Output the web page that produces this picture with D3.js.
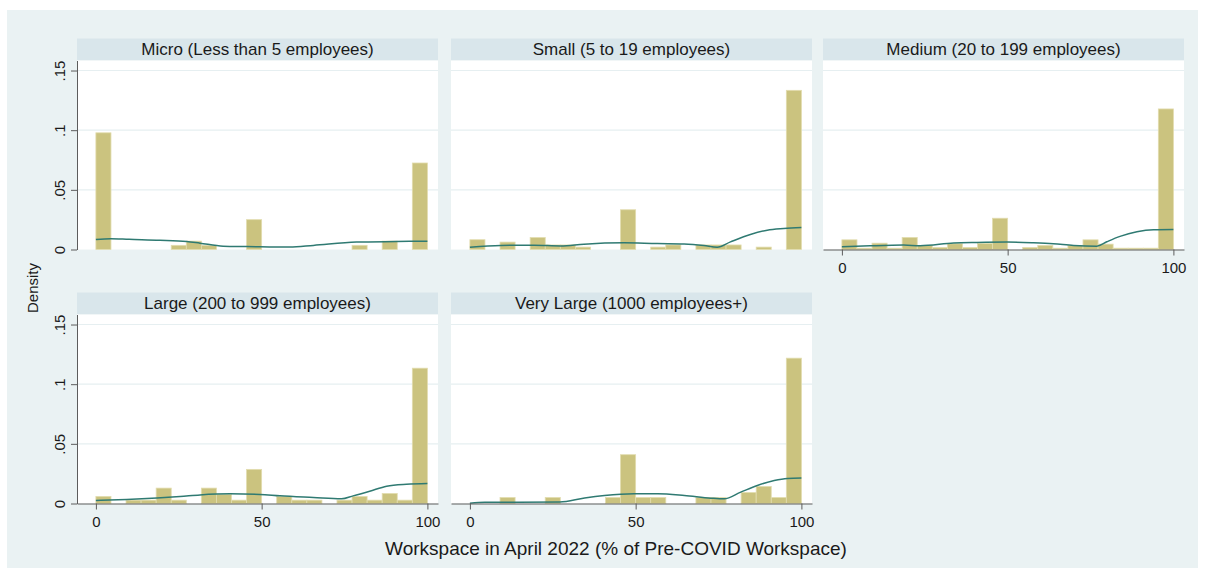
<!DOCTYPE html>
<html>
<head>
<meta charset="utf-8">
<script src="https://cdn.jsdelivr.net/npm/d3@7"></script>
<style>
  body { margin: 0; background: #fff; }
  svg text { font-family: "Liberation Sans", Arial, sans-serif; fill: #1a1a1a; }
</style>
</head>
<body>
<div id="chart"></div>
<script>
// panel titles (firm size)
const panelTitles = [
  'Micro (Less than 5 employees)',
  'Small (5 to 19 employees)',
  'Medium (20 to 199 employees)',
  'Large (200 to 999 employees)',
  'Very Large (1000 employees+)'
]

// histogram densities, 22 bins over 0..100
const microDensity = [0.0978, 0, 0, 0, 0, 0.0035, 0.0070, 0.0035, 0, 0, 0.0250, 0, 0, 0, 0, 0, 0, 0.0035, 0, 0.0070, 0, 0.0725]
const smallDensity = [0.0082, 0, 0.0062, 0, 0.0100, 0.0038, 0.0038, 0.0020, 0, 0, 0.0333, 0, 0.0020, 0.0038, 0, 0.0038, 0.0038, 0.0038, 0, 0.0020, 0, 0.1334]
const mediumDensity = [0.0081, 0.0011, 0.0053, 0.0011, 0.0101, 0.0034, 0.0017, 0.0048, 0.0017, 0.0050, 0.0262, 0, 0.0017, 0.0034, 0.0011, 0.0034, 0.0081, 0.0045, 0.0011, 0.0011, 0.0011, 0.1178]
const largeDensity = [0.0059, 0, 0.0028, 0.0028, 0.0129, 0.0028, 0, 0.0129, 0.0076, 0.0028, 0.0286, 0, 0.0059, 0.0028, 0.0028, 0, 0.0028, 0.0059, 0.0028, 0.0084, 0.0028, 0.1134]
const veryLargeDensity = [0, 0, 0.0050, 0, 0, 0.0050, 0, 0, 0, 0.0050, 0.0409, 0.0050, 0.0050, 0, 0, 0.0050, 0.0050, 0, 0.0092, 0.0143, 0.0050, 0.1218]

// kernel density curves [x, density]
const microKde = [[0, 0.0084], [4.5, 0.0090], [10, 0.0085], [19.3, 0.0078], [27.4, 0.0067], [31.4, 0.0053], [38.4, 0.0028], [45.5, 0.0025], [58.5, 0.0020], [65.6, 0.0034], [78.6, 0.0062], [90.7, 0.0067], [100, 0.0070]]
const smallKde = [[0, 0.0019], [9.3, 0.0034], [19.4, 0.0036], [27.4, 0.0030], [34.4, 0.0045], [46.5, 0.0056], [56.5, 0.0050], [64.6, 0.0047], [70.6, 0.0034], [74.6, 0.0019], [78.6, 0.0064], [84.6, 0.0126], [89.7, 0.0162], [94.7, 0.0176], [100, 0.0185]]
const mediumKde = [[0, 0.0023], [8.5, 0.0031], [18.6, 0.0037], [23.6, 0.0031], [33.7, 0.0054], [40.7, 0.0059], [49.8, 0.0062], [57.8, 0.0056], [63.8, 0.0048], [69.9, 0.0034], [76.9, 0.0028], [79.9, 0.0065], [83.9, 0.0110], [89, 0.0149], [94, 0.0166], [100, 0.0168]]
const largeKde = [[0, 0.0025], [9.3, 0.0034], [18.4, 0.0047], [25.4, 0.0059], [31.4, 0.0072], [40.5, 0.0081], [49.5, 0.0076], [55.5, 0.0064], [65.6, 0.0050], [74.1, 0.0039], [77.6, 0.0064], [82.6, 0.0103], [87.7, 0.0145], [93.7, 0.0162], [100, 0.0168]]
const veryLargeKde = [[0, 0.0003], [4.5, 0.0011], [14.5, 0.0011], [27.1, 0.0013], [34.6, 0.0047], [40.6, 0.0067], [49.6, 0.0081], [56.7, 0.0081], [64.7, 0.0067], [72.7, 0.0045], [76.7, 0.0039], [81.7, 0.0095], [86.7, 0.0151], [91.8, 0.0193], [95.8, 0.0210], [100, 0.0213]]

const yTicks = [0, 0.05, 0.1, 0.15]
const yTickLabels = ['0', '.05', '.1', '.15']
const xTicks = [0, 50, 100]
const yTitle = 'Density'
const xTitle = 'Workspace in April 2022 (% of Pre-COVID Workspace)'

const densities = [microDensity, smallDensity, mediumDensity, largeDensity, veryLargeDensity]
const kdes = [microKde, smallKde, mediumKde, largeKde, veryLargeKde]
const binEdges = d3.range(23).map(i => i * 100 / 22)

const width = 1205
const height = 572
const colX = [77, 451, 823]
const rowY = [38.5, 292.5]
const panelW = 361
const stripH = 22
const plotH = 189

const barFill = '#cbc37f'
const barStroke = '#e2dcae'
const lineColor = '#2f7a72'
const axisColor = '#5c5c5c'

const svg = d3.select('#chart')
  .append('svg')
  .attr('width', width)
  .attr('height', height)

svg.append('rect')
  .attr('x', 7)
  .attr('y', 10)
  .attr('width', 1191)
  .attr('height', 558)
  .attr('fill', '#eaf2f3')

panelTitles.forEach((title, i) => {
  const col = i % 3
  const row = Math.floor(i / 3)
  const x0 = colX[col]
  const top = rowY[row]
  const g = svg.append('g').attr('transform', `translate(${x0},${top})`)

  const x = d3.scaleLinear().domain([-5.7, 103.2]).range([0, panelW])
  const y = d3.scaleLinear().domain([0, 0.1584]).range([stripH + plotH, stripH])

  // strip
  g.append('rect')
    .attr('width', panelW)
    .attr('height', stripH)
    .attr('fill', '#d9e6eb')
  g.append('text')
    .attr('x', panelW / 2)
    .attr('y', 16.5)
    .attr('text-anchor', 'middle')
    .style('font-size', '17px')
    .text(title)

  // plot region
  g.append('rect')
    .attr('y', stripH)
    .attr('width', panelW)
    .attr('height', plotH)
    .attr('fill', '#fff')

  g.selectAll('.grid')
    .data(yTicks.slice(1))
    .enter().append('line')
    .attr('x1', 0)
    .attr('x2', panelW)
    .attr('y1', d => y(d))
    .attr('y2', d => y(d))
    .attr('stroke', '#e6eff1')
    .attr('stroke-width', 1.2)

  // bars
  g.selectAll('.bar')
    .data(densities[i].map((v, k) => ({ v, k })).filter(d => d.v > 0))
    .enter().append('rect')
    .attr('x', d => x(binEdges[d.k]))
    .attr('width', d => x(binEdges[d.k + 1]) - x(binEdges[d.k]))
    .attr('y', d => y(d.v))
    .attr('height', d => y(0) - y(d.v))
    .attr('fill', barFill)
    .attr('stroke', barStroke)
    .attr('stroke-width', 0.8)

  // kernel density
  const line = d3.line()
    .x(d => x(d[0]))
    .y(d => y(d[1]))
    .curve(d3.curveMonotoneX)
  g.append('path')
    .datum(kdes[i])
    .attr('d', line)
    .attr('fill', 'none')
    .attr('stroke', lineColor)
    .attr('stroke-width', 1.5)

  // y axis on first column
  if (col === 0) {
    const ya = g.append('g')
      .call(d3.axisLeft(y).tickValues(yTicks).tickFormat((d, k) => yTickLabels[k]).tickSize(6).tickSizeOuter(0))
    ya.select('.domain').attr('stroke', axisColor)
    ya.selectAll('.tick line').attr('stroke', axisColor)
    ya.selectAll('.tick text')
      .attr('transform', 'rotate(-90)')
      .attr('x', 0)
      .attr('y', -12)
      .attr('dy', 0)
      .attr('text-anchor', 'middle')
      .style('font-size', '15px')
      .style('font-family', '"Liberation Sans", Arial, sans-serif')
      .attr('fill', '#1a1a1a')
  }

  // x axis where nothing sits below
  if (row === 1 || col === 2) {
    const xa = g.append('g')
      .attr('transform', `translate(0,${stripH + plotH})`)
      .call(d3.axisBottom(x).tickValues(xTicks).tickSize(6).tickSizeOuter(0))
    xa.select('.domain').attr('stroke', axisColor)
    xa.selectAll('.tick line').attr('stroke', axisColor)
    xa.selectAll('.tick text')
      .attr('y', 13)
      .style('font-size', '15px')
      .style('font-family', '"Liberation Sans", Arial, sans-serif')
      .attr('fill', '#1a1a1a')
  }
})

svg.append('text')
  .attr('transform', 'translate(38,288) rotate(-90)')
  .attr('text-anchor', 'middle')
  .style('font-size', '15px')
  .text(yTitle)

svg.append('text')
  .attr('x', 616)
  .attr('y', 555)
  .attr('text-anchor', 'middle')
  .style('font-size', '19px')
  .text(xTitle)
</script>
</body>
</html>
